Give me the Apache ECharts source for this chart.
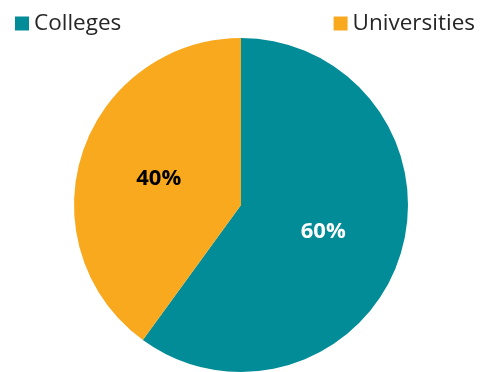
<!DOCTYPE html>
<html><head><meta charset="utf-8">
<script src="https://cdn.jsdelivr.net/npm/echarts@6/dist/echarts.min.js"></script>
<style>html,body{margin:0;padding:0;background:#fff}#c{width:480px;height:372px}</style>
</head><body><div id="c"></div>
<script>
const categories = ["Colleges", "Universities"];
const values = [60, 40];
const colors = ["#018C97", "#F9A91E"];
const labelColors = ["#ffffff", "#000000"];

const chart = echarts.init(document.getElementById('c'), null, {renderer: 'canvas'});
const font = "'Open Sans', sans-serif";
chart.setOption({
  animation: false,
  legend: [
    {data: [categories[0]], left: 10, top: 7, icon: 'rect', itemWidth: 14, itemHeight: 14, itemGap: 6,
     textStyle: {fontFamily: font, fontSize: 22.5, color: '#262626'}},
    {data: [categories[1]], right: 0, top: 7, icon: 'rect', itemWidth: 14, itemHeight: 14, itemGap: 6,
     textStyle: {fontFamily: font, fontSize: 22.5, color: '#262626'}}
  ],
  series: [{
    type: 'pie',
    center: [241, 205],
    radius: [0, 167],
    startAngle: 90,
    clockwise: true,
    data: categories.map((c, i) => ({
      name: c, value: values[i],
      itemStyle: {color: colors[i]},
      label: {color: labelColors[i]}
    })),
    label: {
      show: true, position: 'inside',
      formatter: p => p.value + '%',
      fontFamily: font, fontSize: 22, fontWeight: 'bold'
    },
    labelLine: {show: false},
    itemStyle: {borderWidth: 0}
  }]
});
</script></body></html>
